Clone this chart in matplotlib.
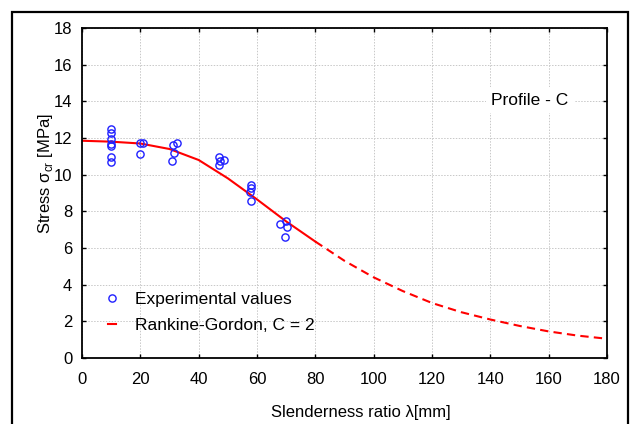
import matplotlib
matplotlib.use("Agg")
import matplotlib.pyplot as plt
from matplotlib.patches import Rectangle

plt.rcParams['font.family'] = ['Liberation Sans', 'DejaVu Sans']
plt.rcParams['font.size'] = 12

# experimental points (slenderness ratio, stress)
lam_exp = [10, 10, 10, 10, 10, 10, 10,
           20, 21, 20,
           31.3, 32.7, 31.4, 30.7,
           46.8, 48.8, 47.2, 46.8,
           57.8, 58, 57.5, 58,
           67.9, 70, 70.3, 69.6]
sig_exp = [12.5, 12.27, 11.97, 11.7, 11.55, 10.98, 10.7,
           11.75, 11.75, 11.14,
           11.64, 11.75, 11.2, 10.77,
           10.97, 10.78, 10.72, 10.52,
           9.44, 9.28, 9.08, 8.54,
           7.33, 7.5, 7.15, 6.62]

# Rankine-Gordon curve
lam_rg = [0, 10, 20, 30, 40, 50, 60, 70, 80,
          90, 100, 110, 120, 130, 140, 150, 160, 170, 180]
sig_rg = [11.85, 11.8, 11.7, 11.4, 10.8, 9.8, 8.65, 7.45, 6.35,
          5.3, 4.4, 3.65, 3.0, 2.5, 2.1, 1.75, 1.45, 1.22, 1.05]
split = lam_rg.index(80)

fig = plt.figure(figsize=(6.32, 4.24), dpi=100)
ax = fig.add_axes([82 / 632, 1 - 358 / 424, 525 / 632, 330 / 424])

# outer frame round the whole figure
fig.patches.append(Rectangle((12 / 632, -0.05), 616 / 632, 1.05 - 12 / 424,
                             transform=fig.transFigure, fill=False,
                             edgecolor='black', lw=1.6))

ax.plot(lam_exp, sig_exp, 'o', mfc='none', mec='#1f1fff', ms=5.2, mew=1.0,
        label='Experimental values', zorder=3)
ax.plot(lam_rg[:split + 1], sig_rg[:split + 1], '-', color='red', lw=1.5, zorder=2)
ax.plot(lam_rg[split:], sig_rg[split:], color='red', lw=1.5,
        linestyle=(0, (4, 2.5)), zorder=2)
# legend handle: short red dash
ax.plot([], [], color='red', lw=1.5, label='Rankine-Gordon, C = 2')

ax.set_xlim(0, 180)
ax.set_ylim(0, 18)
ax.set_xticks(range(0, 181, 20))
ax.set_yticks(range(0, 19, 2))
ax.grid(True, color='#c8c8c8', linestyle=(0, (1.5, 1.5)), lw=0.7, zorder=0)
ax.tick_params(direction='in', top=True, right=True, length=3, width=1)
ax.tick_params(axis='x', pad=10)
ax.tick_params(axis='y', pad=7)
for s in ax.spines.values():
    s.set_linewidth(1.3)

ax.set_xlabel('Slenderness ratio λ[mm]')
ax.xaxis.set_label_coords(0.531, -0.142)
ax.xaxis.label.set_va('top')
ax.set_ylabel('Stress σ$_{\\mathregular{cr}}$ [MPa]')
ax.yaxis.set_label_coords(-0.051, 0.558)

ax.text(153.5, 14.05, 'Profile - C', ha='center', va='center', fontsize=12.5,
        bbox=dict(facecolor='white', edgecolor='none', pad=4), zorder=4)

# white patch the legend sits on (hides grid as in the reference)
ax.add_patch(Rectangle((0.003, 0.064), 0.48, 0.163, transform=ax.transAxes,
                       facecolor='white', edgecolor='none', zorder=1))
leg = ax.legend(loc='lower left', bbox_to_anchor=(0.04, 0.06), borderaxespad=0,
                frameon=False, fontsize=12.5,
                handlelength=0.45, handletextpad=1.1, labelspacing=0.6,
                borderpad=0.3, numpoints=1)

fig.savefig('out.png', dpi=100)
